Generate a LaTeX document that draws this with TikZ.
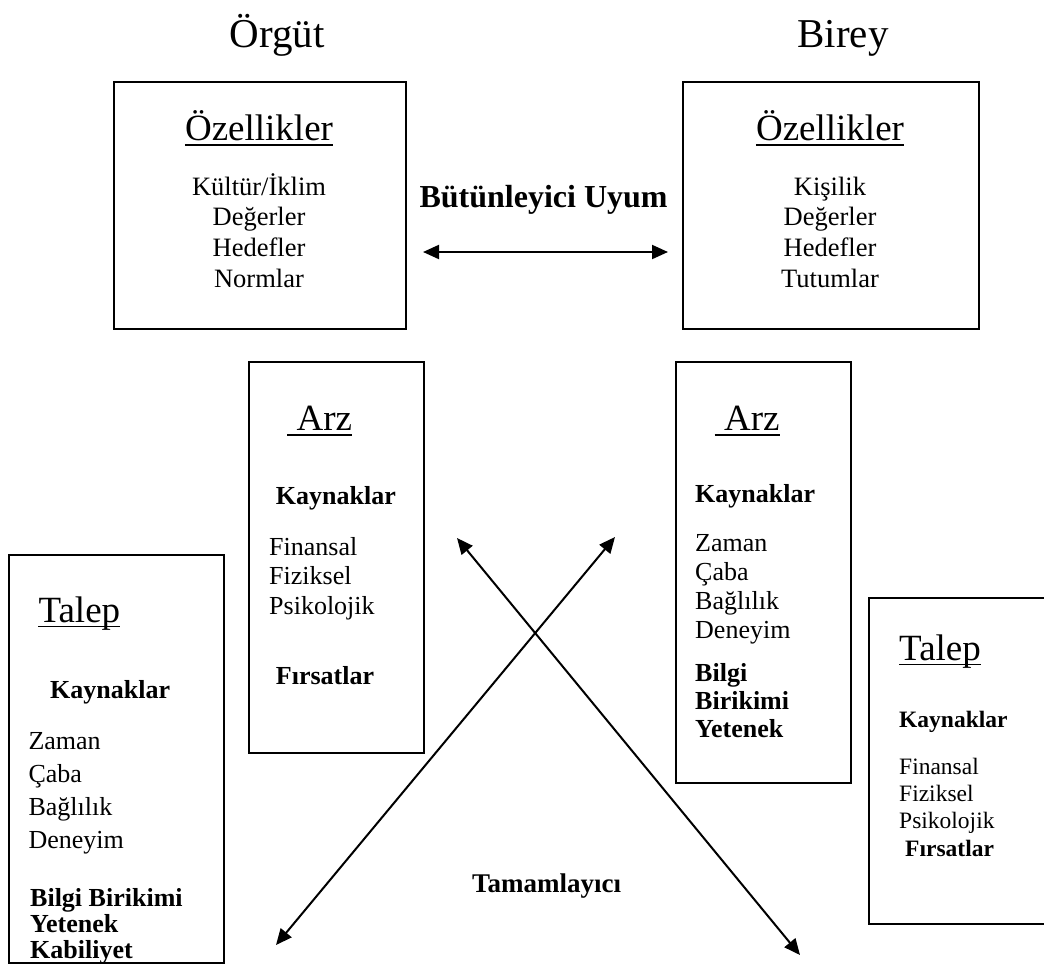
\documentclass[tikz,border=0pt]{standalone}
\usepackage{fontspec}
\setmainfont{Liberation Serif}
\usetikzlibrary{arrows.meta}
\begin{document}
\begin{tikzpicture}[x=1pt,y=-1pt,
  frame/.style={draw, line width=1.8pt, inner sep=0pt, anchor=north west},
  txt/.style={inner sep=0pt, anchor=base west},
  ctxt/.style={inner sep=0pt, anchor=base},
  uline/.style={line width=1.8pt},
  link/.style={line width=2pt, {Triangle[length=16pt,width=14pt]}-{Triangle[length=16pt,width=14pt]}},
  title/.style={ctxt, font=\fontsize{41}{49}\selectfont},
  head/.style={font=\fontsize{37}{44}\selectfont},
  body/.style={font=\fontsize{26}{30}\selectfont},
  bbody/.style={font=\bfseries\fontsize{26}{30}\selectfont},
]
\useasboundingbox (0,0) rectangle (1044,970);

% column titles
\node[title] (orgut) at (277,47) {Örgüt};
\node[title] (birey) at (843,47) {Birey};

% characteristics boxes
\node[frame, minimum width=292pt, minimum height=247pt] (featO) at (113,81) {};
\node[frame, minimum width=296pt, minimum height=247pt] (featB) at (682,81) {};

\node[ctxt, head] (hO) at (259,140) {Özellikler};
\draw[uline] ([yshift=-5pt]hO.base west) -- ([yshift=-5pt]hO.base east);
\node[ctxt, head] (hB) at (830,140) {Özellikler};
\draw[uline] ([yshift=-5pt]hB.base west) -- ([yshift=-5pt]hB.base east);

\foreach \t [count=\i] in {Kültür/İklim,Değerler,Hedefler,Normlar}
  \node[ctxt, font=\fontsize{26.5}{30}\selectfont] (fo\i) at (259,{195+(\i-1)*30.7}) {\t};
\foreach \t [count=\i] in {Kişilik,Değerler,Hedefler,Tutumlar}
  \node[ctxt, font=\fontsize{26.5}{30}\selectfont] (fb\i) at (830,{195+(\i-1)*30.7}) {\t};

\node[ctxt, font=\bfseries\fontsize{32}{38}\selectfont] (fit) at (543.6,207.7) {Bütünleyici Uyum};
\coordinate (fitL) at (423,252);
\coordinate (fitR) at (668,252);
\draw[link] (fitL) -- (fitR);

% supply boxes
\node[frame, minimum width=175pt, minimum height=391pt] (supO) at (248,361) {};
\node[frame, minimum width=175pt, minimum height=421pt] (supB) at (675,361) {};

\node[txt, head] (aO) at (296.5,430) {Arz};
\draw[uline] ([xshift=-9.5pt,yshift=-5pt]aO.base west) -- ([yshift=-5pt]aO.base east);
\node[txt, head] (aB) at (724,430) {Arz};
\draw[uline] ([xshift=-9.5pt,yshift=-5pt]aB.base west) -- ([yshift=-5pt]aB.base east);

\node[txt, bbody] (kO) at (275.7,504) {Kaynaklar};
\foreach \t [count=\i] in {Finansal,Fiziksel,Psikolojik}
  \node[txt, body] (so\i) at (269,{555+(\i-1)*29.5}) {\t};
\node[txt, bbody] (fsO) at (275.7,684) {Fırsatlar};

\node[txt, bbody] (kB) at (695,502) {Kaynaklar};
\foreach \t [count=\i] in {Zaman,Çaba,Bağlılık,Deneyim}
  \node[txt, body] (sb\i) at (695,{551+(\i-1)*29}) {\t};
\foreach \t [count=\i] in {Bilgi,Birikimi,Yetenek}
  \node[txt, bbody] (bb\i) at (695,{681+(\i-1)*28.3}) {\t};

% demand boxes
\node[frame, minimum width=215pt, minimum height=408pt] (demO) at (8,554) {};
\node[frame, minimum width=190pt, minimum height=326pt] (demB) at (868,597) {};

\node[txt, head] (tO) at (38.3,622) {Talep};
\draw[uline] ([yshift=-4.5pt]tO.base west) -- ([yshift=-4.5pt]tO.base east);
\node[txt, bbody] (kdO) at (50,698) {Kaynaklar};
\foreach \t [count=\i] in {Zaman,Çaba,Bağlılık,Deneyim}
  \node[txt, body] (do\i) at (28.3,{749+(\i-1)*33}) {\t};
\begin{scope}
  \clip (9,555) rectangle (222,961);
  \foreach \t [count=\i] in {Bilgi Birikimi,Yetenek,Kabiliyet}
    \node[txt, bbody] (dbo\i) at (30,{906+(\i-1)*26}) {\t};
\end{scope}

\node[txt, head] (tB) at (899,660) {Talep};
\draw[uline] ([yshift=-4.5pt]tB.base west) -- ([yshift=-4.5pt]tB.base east);
\node[txt, font=\bfseries\fontsize{23.5}{27}\selectfont] (kdB) at (899,727) {Kaynaklar};
\foreach \t [count=\i] in {Finansal,Fiziksel,Psikolojik}
  \node[txt, font=\fontsize{23.5}{27}\selectfont] (db\i) at (899,{774+(\i-1)*27}) {\t};
\node[txt, font=\bfseries\fontsize{23.5}{27}\selectfont] (fsB) at (905,856) {Fırsatlar};

% complementary fit
\node[ctxt, font=\bfseries\fontsize{27}{32}\selectfont] (comp) at (546.5,892) {Tamamlayıcı};
\coordinate (xa1) at (276,945);
\coordinate (xa2) at (615,537);
\coordinate (xb1) at (457,538);
\coordinate (xb2) at (800,955);
\draw[link] (xa1) -- (xa2);
\draw[link] (xb1) -- (xb2);
\end{tikzpicture}
\end{document}
